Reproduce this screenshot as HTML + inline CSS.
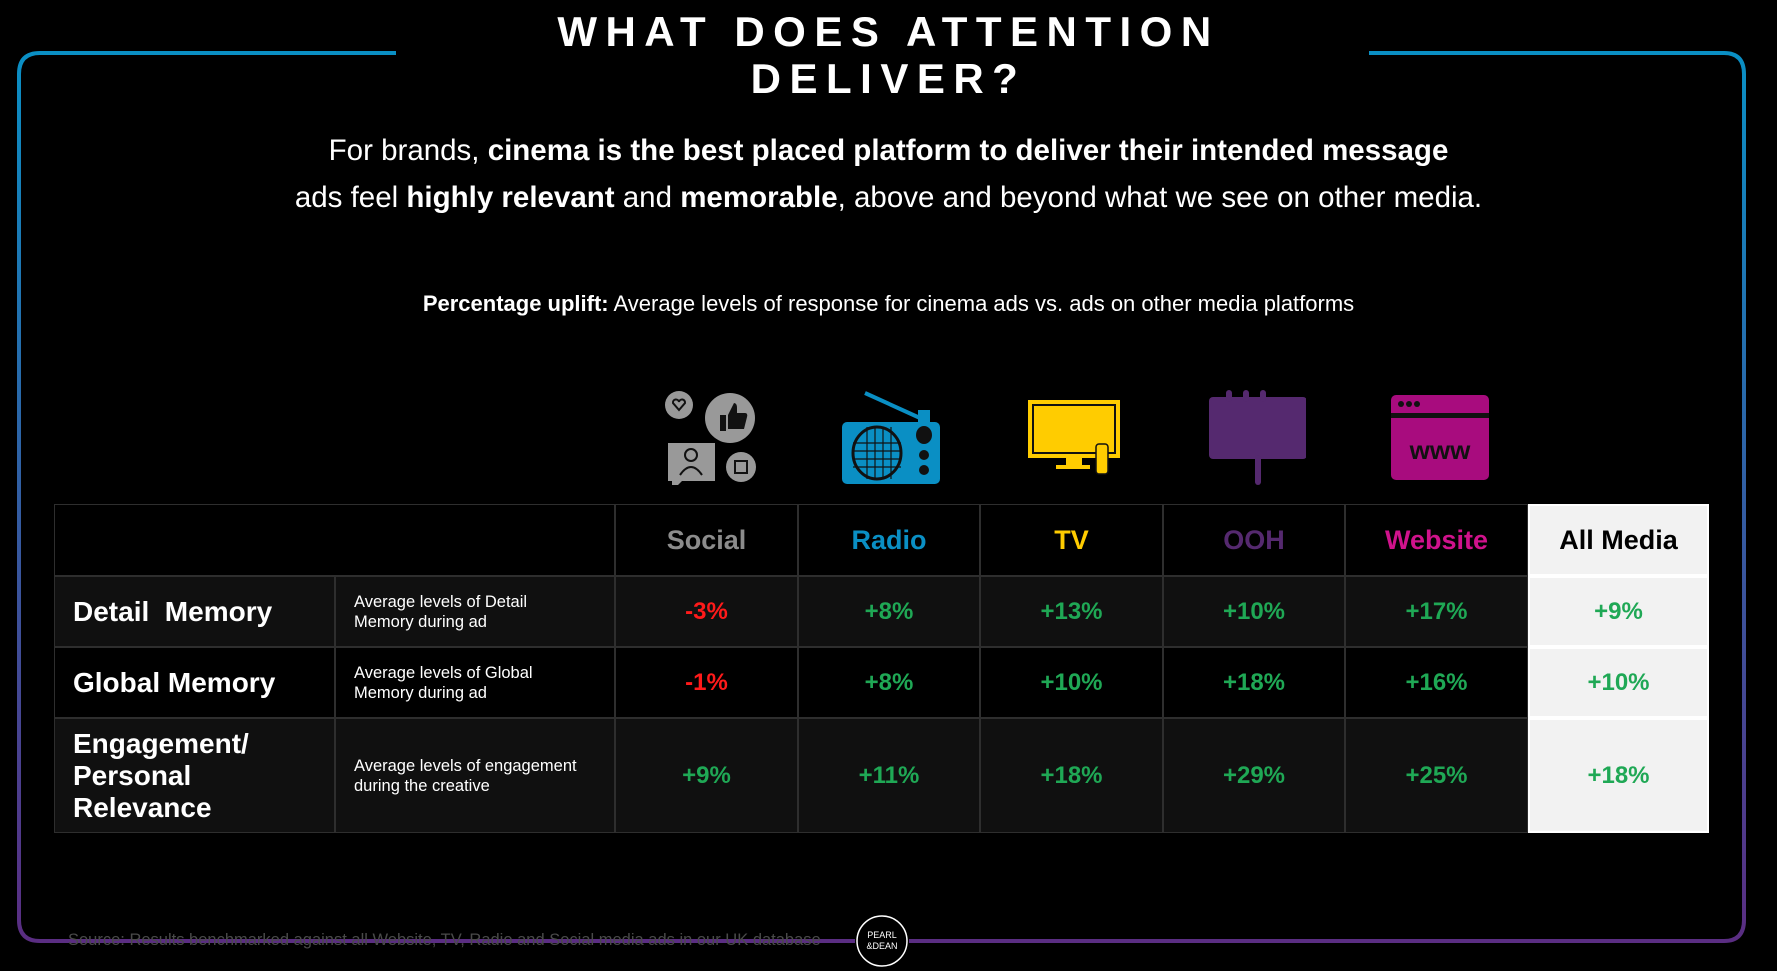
<!DOCTYPE html>
<html><head><meta charset="utf-8">
<style>
html,body{margin:0;padding:0;background:#000;}
#root{position:relative;width:1777px;height:971px;background:#000;overflow:hidden;font-family:"Liberation Sans",sans-serif;color:#fff;}
.abs{position:absolute;}
.title{left:0;width:1777px;text-align:center;font-weight:bold;font-size:42px;letter-spacing:8.5px;line-height:48px;}
.sub{left:0;width:1777px;text-align:center;font-size:29.5px;line-height:34px;}
.cell{position:absolute;box-sizing:border-box;display:flex;align-items:center;justify-content:center;font-weight:bold;font-size:24px;}
</style></head><body>
<div id="root">
<svg class="abs" style="left:0;top:0" width="1777" height="971">
<defs><linearGradient id="g" x1="0" y1="0" x2="0" y2="1"><stop offset="0" stop-color="#0a8fc4"/><stop offset="1" stop-color="#5a2d82"/></linearGradient></defs>
<path d="M396 53 H40 Q19 53 19 74 V920 Q19 941 40 941 H855 M909 941 H1724 Q1744 941 1744 920 V74 Q1744 53 1724 53 H1369" fill="none" stroke="url(#g)" stroke-width="4"/>
<circle cx="882" cy="941" r="25" fill="#000" stroke="#fff" stroke-width="1.5"/>
<text x="882" y="938" fill="#fff" font-size="9" text-anchor="middle" font-family="Liberation Sans">PEARL</text>
<text x="882" y="949" fill="#fff" font-size="9" text-anchor="middle" font-family="Liberation Sans">&amp;DEAN</text>
</svg>
<div class="abs title" style="top:8px">WHAT DOES ATTENTION</div>
<div class="abs title" style="top:55px">DELIVER?</div>
<div class="abs sub" style="top:134px">For brands, <b>cinema is the best placed platform to deliver their intended message</b></div>
<div class="abs sub" style="top:181px">ads feel <b>highly relevant</b> and <b>memorable</b>, above and beyond what we see on other media.</div>
<div class="abs" style="left:0;width:1777px;top:291px;text-align:center;font-size:22px"><b>Percentage uplift:</b> Average levels of response for cinema ads vs. ads on other media platforms</div>
<div class="abs" style="left:68px;top:931px;font-size:16.5px;color:#4a4a4a">Source: Results benchmarked against all Website, TV, Radio and Social media ads in our UK database</div>

<svg class="abs" style="left:660px;top:385px" width="100" height="100">
<circle cx="19" cy="20" r="14" fill="#999"/><path d="M13 18 a3 3 0 0 1 6-1 a3 3 0 0 1 6 1 l-6 7z" fill="none" stroke="#111" stroke-width="2"/>
<circle cx="70" cy="33" r="25" fill="#999"/><path d="M60 30 h6 v16 h-6z M68 30 l6-12 q3 0 3 5 v5 h8 q3 0 2 4 l-3 12 h-16z" fill="#111"/>
<path d="M8 58 h47 v38 h-33 l-10 10 v-10 h-4z" fill="#999"/><circle cx="31" cy="70" r="6" fill="none" stroke="#111" stroke-width="2"/><path d="M20 90 q11-16 22 0" fill="none" stroke="#111" stroke-width="2"/>
<circle cx="81" cy="82" r="15" fill="#999"/><rect x="75" y="76" width="12" height="12" fill="none" stroke="#111" stroke-width="2"/>
</svg>
<svg class="abs" style="left:840px;top:385px" width="100" height="100">
<line x1="25" y1="8" x2="80" y2="33" stroke="#0a8fc4" stroke-width="4"/><rect x="78" y="25" width="12" height="14" fill="#0a8fc4"/>
<rect x="2" y="37" width="98" height="62" rx="5" fill="#0a8fc4"/>
<ellipse cx="37" cy="68" rx="24" ry="26" fill="#0a8fc4" stroke="#111" stroke-width="3"/>
<g stroke="#111" stroke-width="1.2"><line x1="13" y1="58" x2="61" y2="58"/><line x1="13" y1="66" x2="61" y2="66"/><line x1="13" y1="74" x2="61" y2="74"/><line x1="13" y1="82" x2="61" y2="82"/><line x1="27" y1="42" x2="27" y2="94"/><line x1="35" y1="42" x2="35" y2="94"/><line x1="43" y1="42" x2="43" y2="94"/><line x1="51" y1="42" x2="51" y2="94"/></g>
<ellipse cx="84" cy="50" rx="8" ry="9" fill="#111"/><circle cx="84" cy="70" r="5" fill="#111"/><circle cx="84" cy="85" r="5" fill="#111"/>
</svg>
<svg class="abs" style="left:1026px;top:395px" width="100" height="90">
<rect x="2" y="5" width="92" height="58" fill="#ffcc00"/><rect x="7" y="10" width="82" height="48" fill="none" stroke="#111" stroke-width="2"/>
<rect x="40" y="63" width="16" height="8" fill="#ffcc00"/><rect x="30" y="70" width="34" height="4" fill="#ffcc00"/>
<rect x="70" y="49" width="12" height="30" rx="3" fill="#ffcc00" stroke="#111" stroke-width="1.5"/>
</svg>
<svg class="abs" style="left:1206px;top:385px" width="100" height="105">
<rect x="3" y="12" width="98" height="62" rx="4" fill="#55296f"/>
<rect x="20" y="5" width="6" height="12" rx="3" fill="#55296f"/><rect x="37" y="5" width="6" height="12" rx="3" fill="#55296f"/><rect x="54" y="5" width="6" height="12" rx="3" fill="#55296f"/>
<rect x="49" y="70" width="6" height="30" rx="3" fill="#55296f"/>
</svg>
<svg class="abs" style="left:1390px;top:393px" width="100" height="90">
<rect x="1" y="2" width="98" height="85" rx="5" fill="#a80c7e"/><rect x="1" y="20" width="98" height="5" fill="#111"/>
<circle cx="11" cy="11" r="3" fill="#111"/><circle cx="19" cy="11" r="3" fill="#111"/><circle cx="27" cy="11" r="3" fill="#111"/>
<text x="50" y="66" fill="#111" font-size="26" font-weight="bold" text-anchor="middle" font-family="Liberation Sans">www</text>
</svg>

<div id="table"></div>
</div>
<script>
const mediaNames = ["Social","Radio","TV","OOH","Website","All Media"];
const mediaColors = ["#8c8c8c","#0a8fc4","#ffcc00","#55296f","#d0128c","#000"];
const metrics = ["Detail&nbsp; Memory","Global Memory","Engagement/<br>Personal<br>Relevance"];
const descriptions = ["Average levels of Detail<br>Memory during ad","Average levels of Global<br>Memory during ad","Average levels of engagement<br>during the creative"];
const detailMemory = [-3,8,13,10,17,9];
const globalMemory = [-1,8,10,18,16,10];
const engagement = [9,11,18,29,25,18];
const rowsData = [detailMemory, globalMemory, engagement];

const colX = [54,335,615,798,980,1163,1345,1528,1709];
const rowY = [504,576,647,718,833];
const rowBg = ["#000","#101010","#000","#101010"];
const t = document.getElementById('table');
function cell(x1,y1,x2,y2,bg,html,style){
  const d=document.createElement('div');
  d.className='cell';
  d.style.left=x1+'px';d.style.top=y1+'px';d.style.width=(x2-x1)+'px';d.style.height=(y2-y1)+'px';
  d.style.background=bg;d.style.border='1.5px solid #2e2e2e';
  d.innerHTML=html;
  if(style) Object.assign(d.style,style);
  t.appendChild(d);
  return d;
}
let h=cell(colX[0],rowY[0],colX[2],rowY[1],"#000","");


mediaNames.forEach((m,i)=>{
  const last=i===mediaNames.length-1;
  const c=cell(colX[i+2],rowY[0],colX[i+3],rowY[1],last?"#f2f2f2":"#000",m,{color:mediaColors[i],fontSize:'27px'});
  if(last) c.style.border='2px solid #fff';
  
  
});
rowsData.forEach((vals,r)=>{
  const y1=rowY[r+1],y2=rowY[r+2],bg=rowBg[r+1];
  const a=cell(colX[0],y1,colX[1],y2,bg,metrics[r],{justifyContent:'flex-start',paddingLeft:'18px',fontSize:'28px',lineHeight:'32px'});
  
  
  const b=cell(colX[1],y1,colX[2],y2,bg,descriptions[r],{justifyContent:'flex-start',paddingLeft:'18px',fontSize:'16.5px',fontWeight:'normal',lineHeight:'20px'});
  
  
  vals.forEach((v,i)=>{
    const last=i===vals.length-1;
    const c=cell(colX[i+2],y1,colX[i+3],y2,last?"#f2f2f2":bg,(v>0?"+":"")+v+"%",{color:v<0?"#ff1a1a":"#1fa855"});
    if(last) c.style.border='2px solid #fff';
    
    
  });
});
</script>
</body></html>
